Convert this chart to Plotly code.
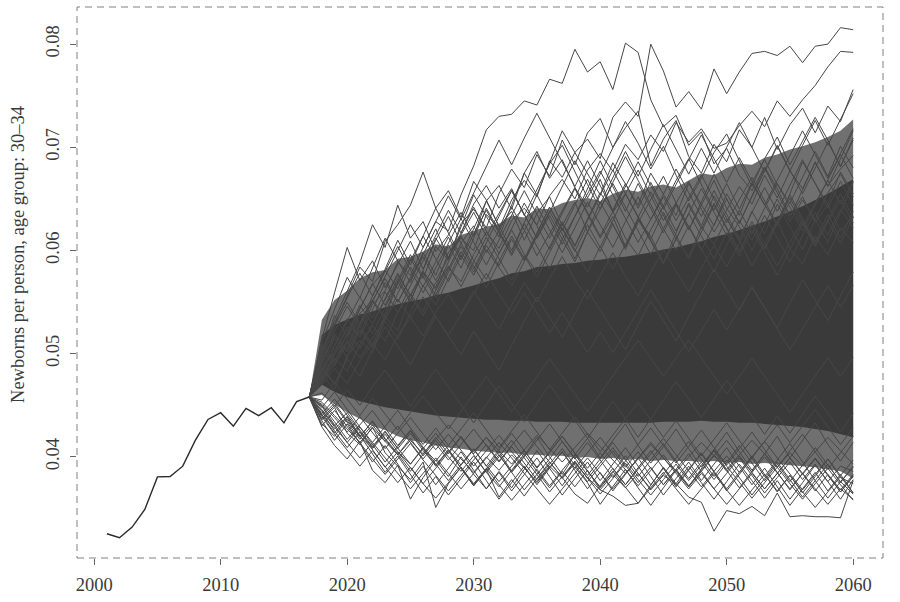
import plotly.graph_objects as go

# ---------------- data ----------------
# observed series, newborns per person, age group 30-34
hist_years = list(range(2001, 2018))
hist_values = [0.03255, 0.03216, 0.0332, 0.0349, 0.03806, 0.0381, 0.0391, 0.04162,
               0.04363, 0.04428, 0.04298, 0.0447, 0.0440, 0.04476, 0.0433, 0.04535, 0.0458]

# simulated paths 2017-2060, newborns per 1000 persons (estimated by eye)
sim_years = list(range(2017, 2061))

sim_u1 = [45.8, 48.5, 50.2, 52.6, 51.9, 54.8, 56.1, 58.9, 57.6, 60.3,
          62.8, 61.9, 65.4, 68.2, 71.7, 73.0, 73.2, 74.5, 74.1, 76.6,
          76.2, 79.5, 77.3, 78.3, 75.6, 80.1, 79.2, 74.6, 72.0, 73.1,
          70.2, 71.5, 68.4, 69.9, 67.3, 65.8, 68.1, 66.0, 63.4, 65.2,
          62.7, 64.5, 61.9, 63.3]
sim_u2 = [45.8, 47.9, 46.5, 49.8, 51.3, 50.1, 53.6, 52.2, 55.7, 57.9,
          56.4, 59.8, 61.2, 60.0, 63.5, 62.1, 64.9, 66.8, 65.2, 68.7,
          67.1, 69.5, 70.8, 68.9, 72.9, 74.4, 73.0, 80.0, 77.4, 73.9,
          75.4, 73.7, 77.6, 75.2, 77.3, 79.1, 79.3, 78.9, 79.8, 78.2,
          79.8, 80.0, 81.6, 81.4]
sim_u3 = [45.8, 47.2, 49.6, 48.3, 50.9, 52.7, 51.2, 54.0, 55.8, 54.1,
          56.9, 58.3, 57.0, 59.6, 61.8, 60.2, 62.9, 64.1, 62.5, 65.3,
          66.9, 65.0, 67.8, 69.4, 67.7, 70.3, 68.8, 71.2, 69.6, 72.4,
          70.5, 71.8, 69.9, 70.4, 72.1, 73.5, 72.0, 74.5, 73.0, 74.6,
          76.0, 77.8, 79.3, 79.2]
sim_u4 = [45.8, 49.1, 51.7, 50.4, 53.9, 55.2, 53.6, 56.8, 59.2, 57.3,
          60.4, 59.1, 62.6, 64.0, 62.2, 65.5, 67.9, 66.1, 69.3, 67.2,
          70.7, 68.3, 71.4, 72.8, 70.0, 71.9, 73.5, 68.2, 70.8, 72.6,
          69.1, 67.5, 70.3, 68.6, 71.7, 70.0, 72.9, 69.8, 72.2, 73.8,
          71.4, 74.0, 72.5, 75.6]
sim_u5 = [45.8, 50.3, 52.8, 55.6, 58.4, 57.0, 60.9, 62.5, 64.4, 67.6,
          64.1, 65.8, 63.2, 66.7, 64.9, 62.3, 63.8, 61.0, 63.6, 65.2,
          62.4, 64.7, 61.8, 59.9, 62.6, 60.1, 63.0, 61.4, 58.8, 61.1,
          59.4, 62.3, 60.6, 63.1, 61.0, 58.5, 60.7, 62.9, 60.2, 58.7,
          61.4, 59.6, 62.2, 60.8]
sim_u6 = [45.8, 49.8, 53.3, 56.0, 58.8, 62.5, 60.3, 64.4, 61.2, 62.8,
          59.9, 61.5, 63.7, 61.4, 64.8, 66.3, 64.0, 67.5, 69.6, 67.0,
          68.8, 66.1, 64.2, 66.9, 63.7, 65.5, 67.8, 65.3, 62.9, 64.6,
          66.7, 64.0, 61.8, 63.9, 66.2, 64.5, 67.3, 65.1, 67.7, 66.0,
          68.5, 66.3, 67.9, 69.2]
sim_u7 = [45.8, 51.4, 55.9, 60.3, 57.1, 59.0, 56.4, 58.7, 60.9, 58.2,
          61.0, 63.3, 60.7, 62.4, 59.8, 61.9, 64.2, 62.0, 59.5, 61.6,
          63.9, 66.1, 63.5, 61.2, 63.3, 60.4, 62.7, 64.9, 67.2, 64.6,
          62.0, 64.4, 66.8, 64.1, 62.3, 60.0, 62.5, 65.0, 62.8, 64.9,
          63.0, 65.6, 67.4, 65.2]
sim_u8 = [45.8, 48.0, 50.7, 53.4, 51.6, 54.2, 56.9, 55.0, 57.4, 59.6,
          62.1, 59.3, 61.7, 64.5, 66.3, 64.1, 66.0, 63.4, 65.9, 68.4,
          70.2, 67.6, 65.1, 67.4, 69.9, 72.5, 70.4, 67.9, 70.1, 67.3,
          64.8, 67.0, 69.5, 71.3, 68.7, 66.2, 68.9, 71.0, 68.3, 70.6,
          72.9, 70.7, 68.1, 70.9]
sim_u9 = [45.8, 50.9, 49.2, 52.0, 54.7, 52.9, 55.3, 57.8, 55.6, 58.0,
          56.2, 58.9, 61.4, 59.0, 57.2, 59.7, 62.0, 59.6, 57.9, 60.3,
          62.8, 60.5, 63.1, 65.6, 63.8, 61.2, 59.5, 62.0, 64.3, 66.8,
          68.9, 66.4, 63.9, 66.5, 64.0, 66.6, 68.8, 66.4, 64.6, 67.1,
          69.6, 67.2, 70.1, 68.0]
sim_u10 = [45.8, 47.4, 49.9, 51.8, 54.4, 56.7, 58.1, 56.3, 59.0, 61.4,
           59.2, 57.0, 59.5, 57.6, 60.1, 58.4, 56.6, 58.9, 61.3, 63.8,
           61.6, 59.2, 61.8, 64.0, 66.5, 64.2, 61.8, 59.6, 62.1, 60.0,
           62.4, 60.1, 57.9, 60.5, 62.9, 61.0, 63.4, 61.2, 58.9, 61.5,
           63.7, 61.5, 64.0, 62.2]
sim_u11 = [45.8, 49.3, 51.9, 50.2, 52.8, 55.1, 53.3, 55.9, 58.4, 56.5,
           58.9, 61.3, 59.1, 61.6, 63.9, 61.7, 59.5, 61.9, 64.3, 62.0,
           59.8, 62.2, 64.7, 62.5, 60.3, 62.8, 65.2, 63.0, 65.5, 67.9,
           65.6, 63.3, 65.8, 63.5, 61.2, 63.7, 66.1, 63.8, 66.3, 68.8,
           66.5, 64.1, 66.7, 64.4]
sim_u12 = [45.8, 48.2, 50.8, 53.1, 55.5, 53.5, 56.0, 54.0, 56.6, 59.0,
           61.5, 63.9, 61.7, 64.2, 61.9, 59.7, 62.1, 64.6, 62.4, 60.1,
           62.6, 60.4, 62.9, 65.3, 67.8, 65.5, 63.2, 65.7, 63.4, 61.1,
           63.6, 66.0, 63.7, 61.5, 63.9, 61.6, 64.1, 66.5, 64.2, 61.9,
           64.4, 66.8, 69.3, 67.0]
sim_u13 = [45.8, 50.6, 48.8, 51.4, 53.9, 51.9, 54.5, 57.0, 59.6, 57.5,
           55.4, 57.9, 60.4, 58.2, 60.8, 63.3, 65.8, 63.5, 61.2, 63.7,
           66.2, 68.7, 66.4, 64.0, 66.6, 69.1, 66.8, 64.4, 62.1, 64.6,
           62.3, 60.0, 62.5, 65.0, 62.7, 65.2, 67.7, 70.2, 67.8, 65.5,
           68.0, 70.5, 68.2, 70.7]
sim_u14 = [45.8, 47.7, 50.1, 52.4, 50.5, 52.9, 55.2, 57.6, 55.6, 53.7,
           56.1, 58.5, 56.5, 58.9, 61.3, 59.2, 57.1, 59.5, 57.4, 59.8,
           62.2, 60.1, 57.9, 60.4, 58.2, 60.6, 63.0, 60.9, 58.7, 61.1,
           63.6, 61.4, 59.2, 61.7, 59.5, 62.0, 59.8, 57.6, 60.1, 62.6,
           60.4, 62.9, 60.7, 63.2]
sim_u15 = [45.8, 48.9, 52.2, 54.6, 52.6, 55.0, 57.5, 60.0, 62.5, 60.3,
           62.8, 65.3, 63.0, 65.6, 68.2, 70.7, 68.3, 70.9, 73.3, 70.9,
           68.5, 66.2, 68.7, 66.3, 63.9, 66.5, 64.1, 66.6, 64.2, 61.9,
           64.4, 62.1, 64.6, 62.2, 59.9, 62.4, 60.1, 62.6, 65.1, 62.8,
           60.5, 63.0, 65.5, 63.2]
sim_u16 = [45.8, 50.0, 53.7, 51.7, 54.3, 56.8, 54.7, 57.3, 55.2, 57.8,
           55.7, 58.2, 60.7, 58.5, 56.4, 58.9, 61.4, 59.2, 61.7, 64.2,
           61.9, 64.4, 66.9, 64.5, 67.1, 69.6, 67.2, 69.8, 72.2, 69.8,
           67.4, 69.9, 67.5, 70.0, 72.4, 70.0, 67.6, 70.1, 67.7, 70.2,
           72.6, 70.2, 72.7, 75.2]
sim_u17 = [45.8, 50.6, 53.0, 55.4, 57.8, 55.6, 58.0, 60.4, 58.1, 55.9,
           58.3, 60.7, 63.1, 60.8, 58.6, 61.0, 63.4, 65.8, 63.5, 61.2,
           63.6, 66.0, 63.7, 61.4, 63.8, 66.2, 68.6, 66.3, 64.0, 66.4,
           68.8, 71.2, 68.9, 66.6, 69.0, 66.7, 64.4, 66.8, 69.2, 71.6,
           69.3, 67.0, 69.4, 71.8]
sim_u18 = [45.8, 48.6, 47.0, 49.7, 52.3, 50.6, 53.2, 51.4, 54.0, 56.6,
           54.7, 57.3, 59.9, 57.9, 60.5, 58.5, 61.1, 59.0, 61.6, 64.2,
           62.1, 59.9, 62.5, 60.3, 62.9, 65.5, 63.3, 61.1, 63.7, 61.4,
           59.2, 61.8, 64.4, 62.1, 59.9, 62.5, 60.2, 62.8, 65.4, 63.1,
           60.9, 63.5, 61.2, 63.8]
sim_u19 = [45.8, 49.5, 52.7, 55.0, 52.9, 55.5, 58.2, 61.0, 58.6, 61.4,
           64.1, 61.7, 59.4, 62.1, 64.8, 62.4, 60.0, 62.7, 65.4, 63.0,
           60.6, 63.3, 66.0, 68.7, 66.2, 63.8, 66.5, 64.1, 61.7, 64.4,
           62.0, 64.7, 67.4, 65.0, 62.6, 65.3, 68.0, 65.6, 63.2, 65.9,
           68.6, 66.2, 68.9, 71.6]
sim_u20 = [45.8, 47.3, 49.0, 50.9, 53.0, 55.2, 57.3, 55.0, 57.2, 59.4,
           57.1, 59.3, 61.5, 63.7, 61.4, 63.6, 65.8, 63.5, 61.2, 63.4,
           61.1, 63.3, 65.5, 67.7, 65.4, 63.1, 60.8, 63.0, 65.2, 62.9,
           65.1, 67.3, 65.0, 62.7, 64.9, 67.1, 64.8, 62.5, 64.7, 62.4,
           64.6, 66.8, 64.5, 66.7]
sim_u21 = [45.8, 51.1, 54.3, 57.4, 55.4, 58.3, 61.2, 59.0, 56.9, 59.8,
           57.6, 60.5, 58.3, 61.2, 64.1, 61.9, 59.7, 62.6, 60.4, 58.2,
           61.1, 58.9, 61.8, 64.7, 62.5, 60.3, 63.2, 61.0, 58.8, 61.7,
           64.6, 62.4, 65.3, 63.1, 60.9, 63.8, 61.6, 64.5, 62.3, 60.1,
           63.0, 60.8, 63.7, 66.6]
sim_u22 = [45.8, 48.4, 51.5, 49.6, 52.7, 50.8, 53.9, 57.0, 55.0, 58.1,
           61.2, 59.2, 62.3, 65.4, 63.3, 61.3, 64.4, 67.5, 65.4, 68.5,
           71.6, 69.5, 67.4, 65.4, 68.5, 66.4, 64.4, 67.5, 65.4, 63.4,
           66.5, 64.4, 62.4, 65.5, 63.4, 66.5, 64.4, 62.4, 65.5, 68.6,
           66.5, 64.5, 67.6, 65.5]
sim_m1 = [45.8, 47.0, 48.6, 47.1, 49.3, 51.0, 49.4, 51.8, 53.5, 51.7,
          54.0, 55.8, 53.9, 56.1, 54.2, 52.4, 54.7, 56.9, 55.0, 57.3,
          59.4, 57.2, 55.3, 57.6, 59.8, 57.5, 55.6, 57.9, 60.1, 58.0,
          56.0, 58.3, 60.5, 58.4, 60.7, 62.8, 60.6, 58.5, 60.8, 62.9,
          60.7, 62.8, 64.9, 62.7]
sim_m2 = [45.8, 46.2, 44.9, 46.5, 45.0, 46.8, 48.4, 46.6, 44.9, 46.7,
          48.5, 46.8, 45.0, 43.3, 45.1, 46.9, 45.2, 43.4, 45.2, 47.0,
          45.3, 43.5, 41.8, 43.6, 45.4, 43.7, 41.9, 43.7, 45.5, 47.3,
          45.6, 43.8, 45.6, 47.4, 45.7, 43.9, 42.2, 44.0, 42.3, 44.1,
          45.9, 44.2, 42.4, 44.2]
sim_m3 = [45.8, 48.8, 47.1, 49.5, 47.8, 50.4, 52.6, 50.7, 48.9, 51.3,
          53.6, 51.7, 49.9, 52.2, 50.3, 48.4, 50.8, 53.1, 55.5, 53.5,
          51.6, 53.9, 56.2, 54.2, 52.3, 50.4, 52.8, 55.1, 53.2, 51.2,
          53.6, 55.9, 58.2, 56.2, 54.2, 56.5, 54.5, 52.5, 54.9, 57.2,
          55.2, 53.2, 55.6, 57.9]
sim_m4 = [45.8, 45.5, 47.2, 45.6, 44.0, 45.7, 44.1, 42.6, 44.3, 45.9,
          44.3, 42.7, 44.4, 46.1, 47.8, 46.1, 44.4, 46.1, 47.8, 49.5,
          47.8, 46.1, 44.4, 46.1, 47.9, 49.6, 51.3, 49.6, 47.8, 49.6,
          51.3, 49.6, 47.8, 46.1, 47.8, 49.6, 47.8, 46.1, 44.3, 46.1,
          47.9, 49.6, 47.8, 49.6]
sim_m5 = [45.8, 47.6, 49.4, 51.2, 49.6, 51.5, 53.4, 55.3, 53.5, 55.5,
          53.6, 51.8, 53.8, 55.8, 57.8, 55.8, 53.9, 55.9, 53.9, 52.0,
          54.0, 52.0, 50.1, 52.1, 50.1, 52.1, 54.2, 56.2, 54.2, 52.2,
          50.2, 52.2, 54.3, 52.3, 54.4, 56.4, 54.4, 52.4, 50.4, 52.4,
          54.5, 56.6, 54.5, 56.6]
sim_m6 = [45.8, 44.8, 46.3, 44.6, 42.9, 41.4, 42.9, 44.5, 42.8, 41.2,
          42.8, 41.1, 42.7, 44.3, 42.6, 40.9, 42.5, 44.1, 42.4, 40.7,
          42.3, 43.9, 42.2, 40.5, 42.1, 43.7, 45.3, 43.6, 41.9, 43.5,
          41.8, 40.1, 41.7, 43.3, 41.6, 39.9, 41.5, 43.1, 41.4, 43.0,
          44.6, 42.9, 41.2, 42.8]
sim_l1 = [45.8, 44.1, 42.7, 43.9, 42.0, 40.8, 42.2, 40.5, 39.3, 40.9,
          39.6, 41.1, 39.8, 38.5, 40.0, 38.7, 40.2, 38.9, 37.6, 39.1,
          37.9, 39.4, 38.0, 36.8, 38.3, 37.0, 38.4, 36.9, 38.2, 37.4,
          36.1, 35.6, 32.8, 34.8, 34.5, 35.2, 34.3, 36.5, 34.2, 34.3,
          34.2, 34.2, 34.1, 37.7]
sim_l2 = [45.8, 43.6, 44.8, 42.3, 41.2, 42.9, 40.4, 39.1, 37.8, 39.5,
          35.1, 37.4, 39.0, 37.2, 38.8, 40.5, 38.6, 40.1, 41.9, 40.0,
          38.3, 40.2, 41.8, 39.9, 41.6, 43.2, 41.1, 39.4, 41.0, 42.7,
          40.8, 39.0, 40.7, 42.4, 40.5, 38.7, 40.3, 42.0, 39.9, 41.6,
          43.3, 41.2, 39.6, 41.4]
sim_l3 = [45.8, 42.9, 41.1, 39.8, 41.5, 38.7, 37.5, 39.2, 35.9, 38.0,
          39.7, 38.1, 40.0, 38.3, 36.9, 38.6, 37.0, 38.8, 40.6, 38.9,
          37.2, 39.0, 37.5, 35.4, 37.1, 38.8, 37.0, 35.3, 37.0, 38.7,
          37.1, 38.9, 40.6, 38.7, 37.0, 38.6, 40.3, 38.5, 36.8, 38.4,
          36.7, 38.3, 36.6, 38.2]
sim_l4 = [45.8, 44.6, 43.0, 44.3, 42.6, 41.0, 42.5, 40.8, 42.3, 40.6,
          39.2, 40.7, 38.9, 37.3, 38.8, 36.1, 37.8, 36.2, 37.9, 39.5,
          38.0, 36.4, 35.5, 37.2, 38.9, 37.3, 39.0, 40.6, 38.9, 37.2,
          38.8, 40.4, 38.6, 36.9, 38.5, 40.1, 38.3, 36.6, 38.2, 36.5,
          38.1, 39.8, 38.0, 37.4]
sim_l5 = [45.8, 44.0, 45.2, 43.5, 42.0, 43.4, 41.7, 40.2, 41.8, 40.1,
          41.6, 40.0, 38.6, 40.1, 38.5, 37.1, 38.7, 40.3, 38.6, 37.0,
          38.6, 37.1, 38.7, 36.8, 36.2, 35.3, 35.5, 37.3, 39.0, 37.4,
          39.1, 37.5, 35.9, 37.6, 39.3, 37.7, 36.0, 37.7, 35.9, 37.5,
          39.2, 37.6, 35.9, 37.8]
sim_l6 = [45.8, 43.2, 42.0, 43.7, 41.9, 43.5, 41.8, 40.3, 38.6, 40.2,
          41.9, 40.3, 41.9, 40.2, 38.5, 40.0, 41.6, 39.9, 38.3, 39.8,
          41.5, 39.9, 38.2, 39.8, 41.4, 39.7, 38.1, 39.7, 41.3, 39.6,
          37.9, 39.5, 37.8, 39.4, 41.1, 39.4, 37.7, 39.3, 37.6, 39.2,
          40.9, 39.2, 37.6, 39.0]
sim_l7 = [45.8, 45.0, 43.4, 41.7, 43.1, 44.5, 42.8, 41.1, 42.6, 40.9,
          39.3, 37.7, 39.2, 40.8, 39.1, 40.7, 42.3, 40.6, 38.9, 40.4,
          42.0, 40.3, 38.6, 37.0, 38.5, 40.1, 38.4, 36.8, 38.3, 39.9,
          41.5, 39.8, 38.1, 39.7, 38.0, 36.3, 37.9, 39.5, 37.8, 36.1,
          37.7, 36.0, 37.6, 36.4]
sim_l8 = [45.8, 44.4, 42.5, 40.9, 42.4, 40.7, 39.0, 40.5, 38.9, 37.4,
          38.9, 40.4, 42.0, 40.3, 41.9, 40.2, 38.5, 40.0, 41.6, 43.2,
          41.5, 39.8, 41.4, 39.7, 38.0, 39.6, 41.2, 42.8, 41.1, 39.4,
          41.0, 42.6, 40.9, 39.2, 40.8, 42.4, 40.7, 39.0, 40.6, 42.2,
          40.5, 38.8, 40.4, 42.0]
sim_l9 = [45.8, 44.2, 45.6, 44.0, 42.5, 40.9, 42.4, 40.8, 39.3, 40.8,
          42.3, 40.7, 39.2, 40.7, 39.1, 37.6, 39.1, 40.6, 39.0, 40.5,
          42.0, 40.4, 38.9, 40.4, 38.8, 37.3, 38.8, 40.3, 41.8, 40.2,
          38.7, 37.1, 38.6, 40.1, 38.5, 40.0, 41.5, 39.9, 38.4, 36.8,
          38.3, 39.8, 38.2, 39.7]
sim_l10 = [45.8, 43.9, 42.2, 40.6, 39.1, 40.6, 39.0, 37.5, 39.0, 37.4,
           36.0, 37.5, 39.0, 37.4, 38.9, 37.3, 35.8, 37.3, 38.8, 37.2,
           38.7, 40.2, 38.6, 37.1, 38.6, 37.0, 35.5, 37.0, 38.5, 36.9,
           35.4, 36.9, 38.4, 36.8, 35.3, 36.8, 38.3, 36.7, 38.2, 36.6,
           35.1, 36.6, 38.1, 36.5]
sim_l11 = [45.8, 45.1, 43.8, 42.4, 43.9, 42.3, 40.8, 42.3, 43.8, 42.2,
           40.7, 42.2, 40.6, 39.1, 40.6, 42.1, 40.5, 39.0, 37.5, 39.0,
           40.5, 38.9, 40.4, 41.9, 40.3, 38.8, 37.2, 38.7, 40.2, 38.6,
           37.1, 38.6, 40.1, 41.6, 40.0, 38.5, 40.0, 38.4, 36.9, 38.4,
           39.9, 38.3, 36.8, 38.3]
sim_l12 = [45.8, 43.0, 44.5, 42.9, 41.3, 39.8, 38.3, 39.8, 41.3, 39.7,
           38.2, 36.7, 38.2, 39.7, 41.2, 39.6, 41.1, 42.6, 41.0, 39.5,
           38.0, 39.5, 37.9, 36.4, 37.9, 39.4, 37.8, 36.3, 37.8, 39.3,
           37.7, 39.2, 40.7, 39.1, 37.6, 36.0, 37.5, 39.0, 37.4, 35.9,
           37.4, 38.9, 37.3, 35.8]
sim_l13 = [45.8, 43.5, 41.6, 43.2, 41.3, 39.5, 41.1, 39.3, 37.5, 39.1,
           37.3, 38.9, 40.5, 38.7, 36.9, 38.5, 36.7, 38.3, 39.9, 38.1,
           36.3, 37.9, 39.5, 37.7, 39.3, 40.9, 39.1, 37.3, 38.9, 37.1,
           38.7, 40.3, 38.5, 36.7, 38.3, 39.9, 38.1, 39.7, 41.3, 39.5,
           37.7, 39.3, 37.5, 39.1]
sim_l14 = [45.8, 44.9, 43.1, 41.4, 42.9, 41.2, 39.5, 41.0, 42.5, 40.8,
           39.1, 40.6, 38.9, 37.2, 38.7, 40.2, 38.5, 36.8, 38.3, 36.6,
           38.1, 39.6, 37.9, 39.4, 40.9, 39.2, 37.5, 39.0, 37.3, 38.8,
           40.3, 38.6, 36.9, 38.4, 39.9, 38.2, 36.5, 38.0, 39.5, 37.8,
           39.3, 37.6, 39.1, 38.6]
sim_l15 = [45.8, 43.7, 45.0, 43.3, 41.7, 43.1, 41.5, 43.0, 41.4, 39.8,
           41.3, 39.7, 41.2, 42.7, 41.1, 39.5, 41.0, 39.4, 37.8, 39.3,
           40.8, 39.2, 37.6, 39.1, 40.6, 39.0, 40.5, 38.9, 37.3, 38.8,
           37.2, 38.7, 40.2, 38.6, 40.1, 38.5, 36.9, 38.4, 39.9, 38.3,
           39.8, 38.2, 36.6, 38.1]
sim_l16 = [45.8, 44.5, 42.9, 41.4, 39.9, 41.4, 39.9, 38.4, 36.9, 38.4,
           39.9, 38.4, 36.9, 38.4, 39.9, 41.4, 39.9, 38.4, 36.9, 35.4,
           36.9, 38.4, 39.9, 38.4, 36.9, 38.4, 39.9, 41.4, 39.9, 38.4,
           36.9, 38.4, 36.9, 35.4, 36.9, 38.4, 36.9, 38.4, 39.9, 38.4,
           36.9, 35.4, 36.9, 35.9]
sim_l17 = [45.8, 45.3, 44.0, 42.7, 41.4, 42.8, 41.5, 40.2, 41.6, 40.3,
           41.7, 43.1, 41.8, 40.5, 41.9, 40.6, 39.3, 40.7, 42.1, 40.8,
           39.5, 40.9, 42.3, 41.0, 39.7, 38.4, 39.8, 41.2, 39.9, 38.6,
           40.0, 41.4, 40.1, 38.8, 40.2, 41.6, 40.3, 39.0, 40.4, 39.1,
           40.5, 41.9, 40.6, 39.3]
sim_l18 = [45.8, 44.1, 42.3, 43.9, 42.1, 40.3, 38.5, 40.1, 38.3, 36.5,
           38.1, 36.3, 37.9, 39.5, 37.7, 35.9, 37.5, 39.1, 37.3, 38.9,
           40.5, 38.7, 36.9, 38.5, 36.7, 38.3, 39.9, 38.1, 36.3, 37.9,
           39.5, 37.7, 39.3, 40.9, 39.1, 37.3, 38.9, 37.1, 35.3, 36.9,
           38.5, 36.7, 38.3, 36.5]

sim_paths = [sim_u1, sim_u2, sim_u3, sim_u4, sim_u5, sim_u6, sim_u7, sim_u8,
             sim_u9, sim_u10, sim_u11, sim_u12, sim_u13, sim_u14, sim_u15, sim_u16,
             sim_u17, sim_u18, sim_u19, sim_u20, sim_u21, sim_u22,
             sim_m1, sim_m2, sim_m3, sim_m4, sim_m5, sim_m6,
             sim_l1, sim_l2, sim_l3, sim_l4, sim_l5, sim_l6, sim_l7, sim_l8,
             sim_l9, sim_l10, sim_l11, sim_l12, sim_l13, sim_l14, sim_l15,
             sim_l16, sim_l17, sim_l18]

# envelopes of the dense part of the fan (per 1000), 2017-2060
core_hi = [45.8, 51.8, 52.8, 53.3, 53.8, 54.1, 54.5, 54.8, 55.1, 55.3,
           55.7, 55.9, 56.3, 56.6, 57.0, 57.3, 57.8, 58.0, 58.4, 58.5,
           58.7, 58.8, 59.0, 59.1, 59.3, 59.4, 59.6, 59.8, 60.1, 60.3,
           60.6, 60.9, 61.3, 61.6, 62.0, 62.4, 62.8, 63.3, 63.8, 64.3,
           64.9, 65.5, 66.2, 66.9]
core_lo = [45.8, 47.0, 46.3, 45.8, 45.4, 45.1, 44.8, 44.6, 44.4, 44.2,
           44.0, 43.9, 43.8, 43.7, 43.6, 43.6, 43.5, 43.5, 43.4, 43.4,
           43.4, 43.3, 43.3, 43.3, 43.3, 43.3, 43.3, 43.3, 43.4, 43.4,
           43.4, 43.5, 43.4, 43.4, 43.3, 43.3, 43.2, 43.1, 43.0, 42.9,
           42.7, 42.5, 42.2, 41.9]
mid_hi = [45.8, 53.3, 55.2, 56.1, 57.3, 57.9, 58.1, 59.2, 59.4, 59.9,
          60.6, 60.4, 61.5, 61.9, 62.3, 62.6, 63.4, 63.2, 64.1, 64.0,
          64.6, 64.9, 65.1, 64.8, 65.5, 65.9, 65.7, 66.2, 66.4, 66.1,
          66.8, 67.5, 67.3, 68.0, 68.4, 68.3, 69.0, 69.3, 69.8, 70.1,
          70.5, 71.0, 71.6, 72.7]
mid_lo = [45.8, 46.0, 45.1, 44.3, 43.7, 43.0, 42.6, 42.0, 41.6, 41.4,
          41.1, 40.9, 40.8, 40.6, 40.5, 40.4, 40.4, 40.2, 40.2, 40.1,
          40.1, 39.9, 40.0, 39.8, 39.9, 39.7, 39.8, 39.6, 39.7, 39.6,
          39.6, 39.5, 39.6, 39.4, 39.5, 39.3, 39.4, 39.3, 39.2, 39.1,
          39.0, 38.8, 38.6, 37.9]

x_ticks = [2000, 2010, 2020, 2030, 2040, 2050, 2060]
y_ticks = [0.04, 0.05, 0.06, 0.07, 0.08]
y_tick_labels = ["0.04", "0.05", "0.06", "0.07", "0.08"]
y_title = "Newborns per person, age group: 30\u201334"

# ---------------- figure ----------------
FONT = "Liberation Serif, Times New Roman, serif"
TEXT = "#3a3a3a"


def per_person(vals):
    return [v / 1000.0 for v in vals]


fig = go.Figure()


def add_band(hi, lo, color):
    xs = sim_years[:len(hi)]
    fig.add_trace(go.Scatter(
        x=xs + xs[::-1],
        y=per_person(hi) + per_person(lo)[::-1],
        fill="toself", fillcolor=color, mode="lines",
        line=dict(width=0, color=color), hoverinfo="skip", showlegend=False))


add_band(mid_hi, mid_lo, "rgba(62,62,62,0.74)")
add_band(core_hi, core_lo, "rgb(58,58,58)")

for p in sim_paths:
    fig.add_trace(go.Scatter(
        x=sim_years[:len(p)], y=per_person(p), mode="lines",
        line=dict(color="#474747", width=1.0), hoverinfo="skip", showlegend=False))

fig.add_trace(go.Scatter(
    x=hist_years, y=hist_values, mode="lines",
    line=dict(color="#2a2a2a", width=1.4), showlegend=False))

fig.update_layout(
    width=900, height=602,
    margin=dict(l=77, r=17, t=7, b=44),
    paper_bgcolor="white", plot_bgcolor="white",
    font=dict(family=FONT, size=18.5, color=TEXT),
    xaxis=dict(range=[1998.64, 2062.36], tickvals=x_ticks, ticks="outside", ticklen=6,
               tickcolor="#666666", tickwidth=1, showgrid=False, zeroline=False,
               showline=False, ticklabelstandoff=4,
               tickfont=dict(family=FONT, size=18.5, color=TEXT)),
    yaxis=dict(range=[0.0302, 0.0836], tickvals=y_ticks, ticktext=y_tick_labels,
               tickangle=-90, ticks="outside", ticklen=6, tickcolor="#666666", tickwidth=1,
               showgrid=False, zeroline=False, showline=False, ticklabelstandoff=4,
               tickfont=dict(family=FONT, size=18.5, color=TEXT)),
    shapes=[dict(type="rect", xref="paper", yref="paper", x0=0, x1=1, y0=0, y1=1,
                 line=dict(color="#808080", width=1, dash="7px,5px"), layer="above")],
    annotations=[dict(text=y_title, xref="paper", yref="paper", x=-0.0732, y=0.55,
                      xanchor="center", yanchor="middle", textangle=-90, showarrow=False,
                      font=dict(family=FONT, size=18.5, color=TEXT))],
)

fig.write_html("out.html", config={"displayModeBar": False},
               post_script="document.body.style.margin='0px';")
